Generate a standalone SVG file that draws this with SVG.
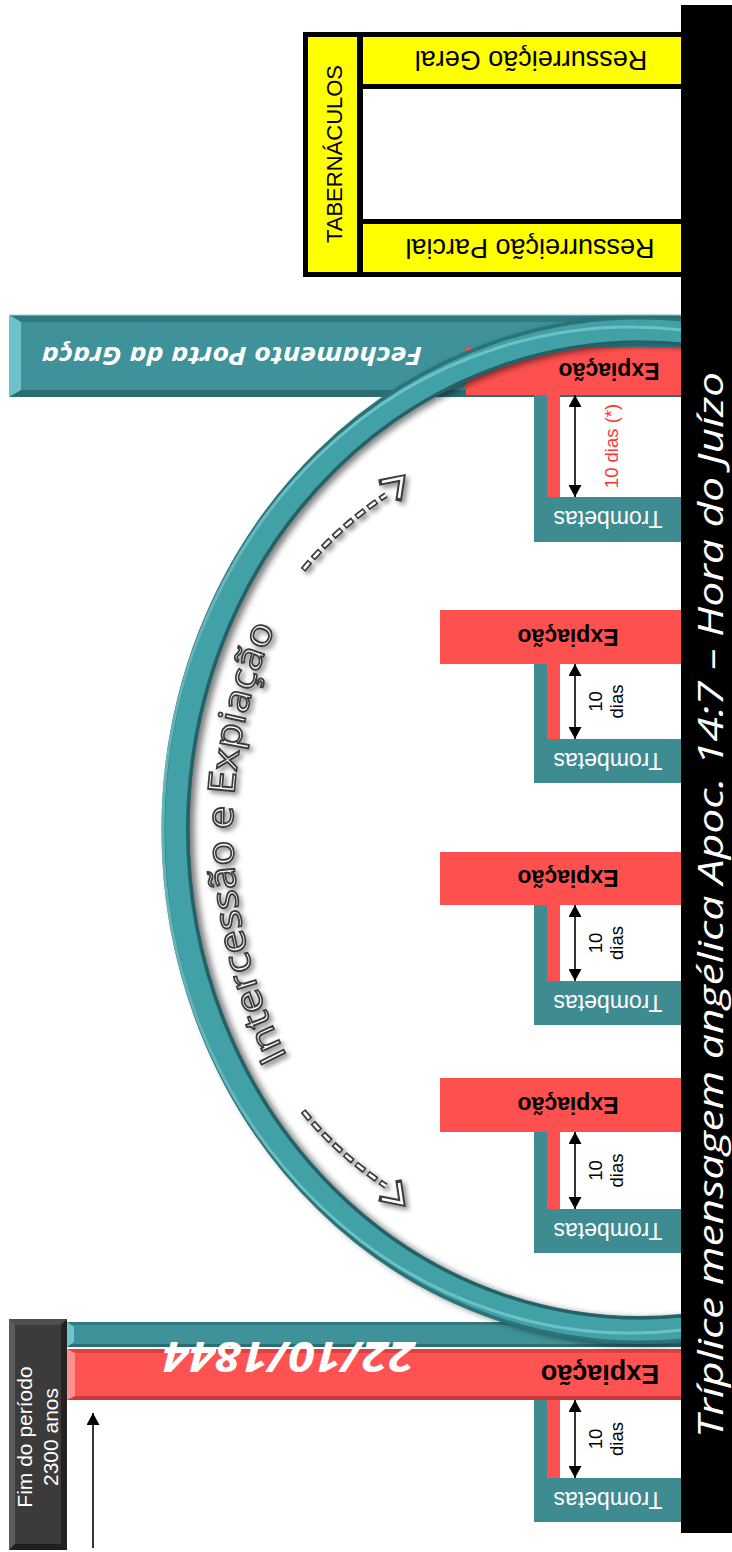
<svg xmlns="http://www.w3.org/2000/svg" width="732" height="1552" viewBox="0 0 732 1552">
<defs>
<style>
.sans{font-family:"Liberation Sans",Arial,sans-serif;}
.trom{font-family:"Liberation Sans",Arial,sans-serif;font-size:23px;fill:#fff;text-anchor:middle;}
.exp{font-family:"Liberation Sans",Arial,sans-serif;font-size:23px;font-weight:bold;fill:#000;text-anchor:middle;}
.dias{font-family:"Liberation Sans",Arial,sans-serif;font-size:18.5px;fill:#000;text-anchor:middle;}
.teal{fill:#3e8b92;}
.red{fill:#ff5050;}
.arr{stroke:#000;stroke-width:1.6;fill:none;marker-start:url(#ah);marker-end:url(#ah);}
.dashO{fill:none;stroke:#3a3a3a;stroke-width:6;stroke-dasharray:11 4;}
.dashI{fill:none;stroke:#fff;stroke-width:2.6;stroke-dasharray:8 7;stroke-dashoffset:-1.5;}
.chevO{fill:none;stroke:#3a3a3a;stroke-width:6.5;stroke-linejoin:miter;stroke-linecap:square;}
.chevI{fill:none;stroke:#fff;stroke-width:2.6;stroke-linejoin:miter;}
.ttl{font-family:"Open Sans","Liberation Sans",sans-serif;font-style:italic;fill:#fff;}
</style>
<marker id="ah" viewBox="0 0 12 13" refX="12" refY="6.5" markerWidth="12" markerHeight="13" markerUnits="userSpaceOnUse" orient="auto-start-reverse">
<path d="M0,0 L12,6.5 L0,13 Z" fill="#000"/>
</marker>
<filter id="blur3" x="-20%" y="-20%" width="140%" height="140%"><feGaussianBlur stdDeviation="3"/></filter>
<filter id="drop" x="-20%" y="-20%" width="140%" height="140%"><feDropShadow dx="3" dy="3" stdDeviation="2.5" flood-color="#000" flood-opacity="0.45"/></filter>
<path id="txtArc" d="M 640 1285 A 407 455 0 0 1 233 830 A 407 455 0 0 1 640 375"/>
</defs>

<rect width="732" height="1552" fill="#fff"/>

<!-- Tabernaculos frame -->
<g id="tabernaculos">
<rect x="303" y="32" width="379" height="245" fill="#000"/>
<rect x="308" y="37" width="49" height="235" fill="#ffff00"/>
<rect x="363" y="37" width="318" height="47" fill="#ffff00"/>
<rect x="363" y="89" width="318" height="130" fill="#fff"/>
<rect x="363" y="224" width="318" height="48" fill="#ffff00"/>
<text class="sans" transform="translate(342,154) rotate(-90)" text-anchor="middle" font-size="22" fill="#000">TABERNÁCULOS</text>
<text class="sans" transform="translate(531,60) rotate(180)" y="9.5" text-anchor="middle" font-size="27" fill="#000">Ressurreição Geral</text>
<text class="sans" transform="translate(530,248) rotate(180)" y="9.5" text-anchor="middle" font-size="27" fill="#000">Ressurreição Parcial</text>
</g>

<!-- Fechamento Porta da Graca bar -->
<g id="fechamento">
<rect x="9" y="315" width="673" height="82" fill="#3f9299"/>
<polygon points="9,315 682,315 682,322 21,322" fill="#2f7b81"/>
<polygon points="9,397 21,390 682,390 682,397" fill="#2a6e74"/>
<polygon points="9,315 21,322 21,390 9,397" fill="#6cc4ca"/>
<line x1="9" y1="315" x2="682" y2="315" stroke="#8fd6db" stroke-width="1"/>
<text class="ttl" transform="translate(232,356) rotate(180)" y="9" text-anchor="middle" font-size="25" font-weight="bold" textLength="380" lengthAdjust="spacingAndGlyphs">Fechamento Porta da Graça</text>
</g>

<!-- Block A -->
<g id="block-a">
<rect class="red" x="466" y="348" width="216" height="47"/>
<path class="teal" d="M534 395 H547 V497 H682 V542 H534 Z"/>
<rect class="red" x="547" y="395" width="13" height="102"/>
<text class="exp" transform="translate(609,371.5) rotate(180)" y="8.3">Expiação</text>
<text class="trom" transform="translate(608,519.5) rotate(180)" y="8.3">Trombetas</text>
<text class="dias" transform="translate(618,446) rotate(-90)" style="fill:#ff3333">10 dias (*)</text>
</g>

<!-- Block B -->
<g id="block-b">
<rect class="red" x="440" y="610" width="242" height="54"/>
<path class="teal" d="M534 664 H547 V739 H682 V783 H534 Z"/>
<rect class="red" x="547" y="664" width="13" height="75"/>
<text class="exp" transform="translate(568,637) rotate(180)" y="8.3">Expiação</text>
<text class="trom" transform="translate(608,761) rotate(180)" y="8.3">Trombetas</text>
<g transform="translate(602,701.5) rotate(-90)"><text class="dias">10</text><text class="dias" y="21">dias</text></g>
</g>

<!-- Block C -->
<g id="block-c">
<rect class="red" x="440" y="852" width="242" height="53"/>
<path class="teal" d="M534 905 H547 V981 H682 V1025 H534 Z"/>
<rect class="red" x="547" y="905" width="13" height="76"/>
<text class="exp" transform="translate(568,878.5) rotate(180)" y="8.3">Expiação</text>
<text class="trom" transform="translate(608,1003) rotate(180)" y="8.3">Trombetas</text>
<g transform="translate(602,943) rotate(-90)"><text class="dias">10</text><text class="dias" y="21">dias</text></g>
</g>

<!-- Block D -->
<g id="block-d">
<rect class="red" x="440" y="1078" width="242" height="54"/>
<path class="teal" d="M534 1132 H547 V1209 H682 V1253 H534 Z"/>
<rect class="red" x="547" y="1132" width="13" height="77"/>
<text class="exp" transform="translate(568,1105) rotate(180)" y="8.3">Expiação</text>
<text class="trom" transform="translate(608,1231) rotate(180)" y="8.3">Trombetas</text>
<g transform="translate(602,1170.5) rotate(-90)"><text class="dias">10</text><text class="dias" y="21">dias</text></g>
</g>

<!-- 1844 block -->
<g id="block-1844">
<rect x="67" y="1322" width="615" height="25" fill="#3f9299"/>
<rect x="67" y="1322" width="615" height="3" fill="#2f7b81"/>
<rect x="67" y="1344" width="615" height="3" fill="#2a6e74"/>
<polygon points="67,1322 74,1327 74,1342 67,1347" fill="#6cc8ce"/>
<rect x="67" y="1349" width="615" height="51" fill="#ff5252"/>
<rect x="67" y="1349" width="615" height="4" fill="#dc4242"/>
<rect x="67" y="1396" width="615" height="4" fill="#c83a3a"/>
<polygon points="67,1349 75,1353 75,1396 67,1400" fill="#ff9090"/>
<text class="ttl" transform="translate(289,1357) rotate(180)" y="15" text-anchor="middle" font-size="42" font-weight="bold" textLength="252" lengthAdjust="spacingAndGlyphs">22/10/1844</text>
<text class="exp" transform="translate(600,1375) rotate(180)" y="9.7" style="font-size:27px">Expiação</text>
<path class="teal" d="M534 1400 H547 V1478 H682 V1522 H534 Z"/>
<rect class="red" x="547" y="1400" width="13" height="78"/>
<text class="trom" transform="translate(608,1500) rotate(180)" y="8.3">Trombetas</text>
<g transform="translate(602,1439) rotate(-90)"><text class="dias">10</text><text class="dias" y="21">dias</text></g>
</g>

<!-- Fim do periodo box -->
<g id="fim-periodo">
<rect x="9" y="1319" width="58" height="231" fill="#3b3b3b"/>
<polygon points="9,1319 67,1319 61,1325 15,1325" fill="#4e4e4e"/>
<polygon points="9,1319 15,1325 15,1544 9,1550" fill="#5c5c5c"/>
<polygon points="67,1319 67,1550 61,1544 61,1325" fill="#232323"/>
<polygon points="9,1550 15,1544 61,1544 67,1550" fill="#1f1f1f"/>
<g transform="translate(32,1437) rotate(-90)">
<text class="sans" text-anchor="middle" font-size="21" fill="#fff">Fim do período</text>
<text class="sans" y="26" text-anchor="middle" font-size="21" fill="#fff">2300 anos</text>
</g>
</g>

<!-- Intercession arc (tube) -->
<g id="arc-intercessao">
<path d="M 682 332 A 465 500 0 1 0 682 1328" fill="none" stroke="#000" stroke-opacity="0.5" stroke-width="28" transform="translate(5,2)" filter="url(#blur3)"/>
<path d="M 682 332 A 465 500 0 1 0 682 1328" fill="none" stroke="#2c7378" stroke-width="28"/>
<path d="M 682 332 A 465 500 0 1 0 682 1328" fill="none" stroke="#42a0a7" stroke-width="21"/>
<path d="M 682 330 A 468 503 0 1 0 682 1330" fill="none" stroke="#7cd0d6" stroke-width="3" stroke-opacity="0.7"/>
<path d="M 682 344 A 453 488 0 1 0 682 1316" fill="none" stroke="#246166" stroke-width="3"/>
<text font-family="'Open Sans','Liberation Sans',sans-serif" font-size="37" fill="#fafafa" stroke="#3a3a3a" stroke-width="1.7" filter="url(#drop)"><textPath href="#txtArc" startOffset="49%" text-anchor="middle" textLength="443" lengthAdjust="spacingAndGlyphs">Intercessão e Expiação</textPath></text>
</g>

<!-- connectors -->
<g id="connectors">
<line class="arr" x1="575" y1="395" x2="575" y2="497"/>
<line class="arr" x1="575" y1="664" x2="575" y2="739"/>
<line class="arr" x1="575" y1="905" x2="575" y2="981"/>
<line class="arr" x1="575" y1="1132" x2="575" y2="1209"/>
<line class="arr" x1="575" y1="1400" x2="575" y2="1478"/>
<line x1="93" y1="1548" x2="93" y2="1413" stroke="#000" stroke-width="1.6" marker-end="url(#ah)"/>
<g filter="url(#drop)">
<path class="dashO" d="M 303 570 Q 338 527 386 495"/>
<path class="dashI" d="M 303 570 Q 338 527 386 495"/>
<polyline class="chevO" points="382,482 402,478 399,498"/>
<polyline class="chevI" points="382,482 402,478 399,498"/>
<path class="dashO" d="M 303 1111 Q 338 1154 386 1186"/>
<path class="dashI" d="M 303 1111 Q 338 1154 386 1186"/>
<polyline class="chevO" points="382,1199 402,1203 399,1183"/>
<polyline class="chevI" points="382,1199 402,1203 399,1183"/>
</g>
</g>

<!-- Title bar -->
<g id="title">
<rect x="681" y="5" width="51" height="1528" fill="#000"/>
<text class="ttl" transform="translate(723,905) rotate(-90)" text-anchor="middle" font-size="35" textLength="1066" lengthAdjust="spacingAndGlyphs">Tríplice mensagem angélica Apoc. 14:7 – Hora do Juízo</text>
</g>
</svg>
